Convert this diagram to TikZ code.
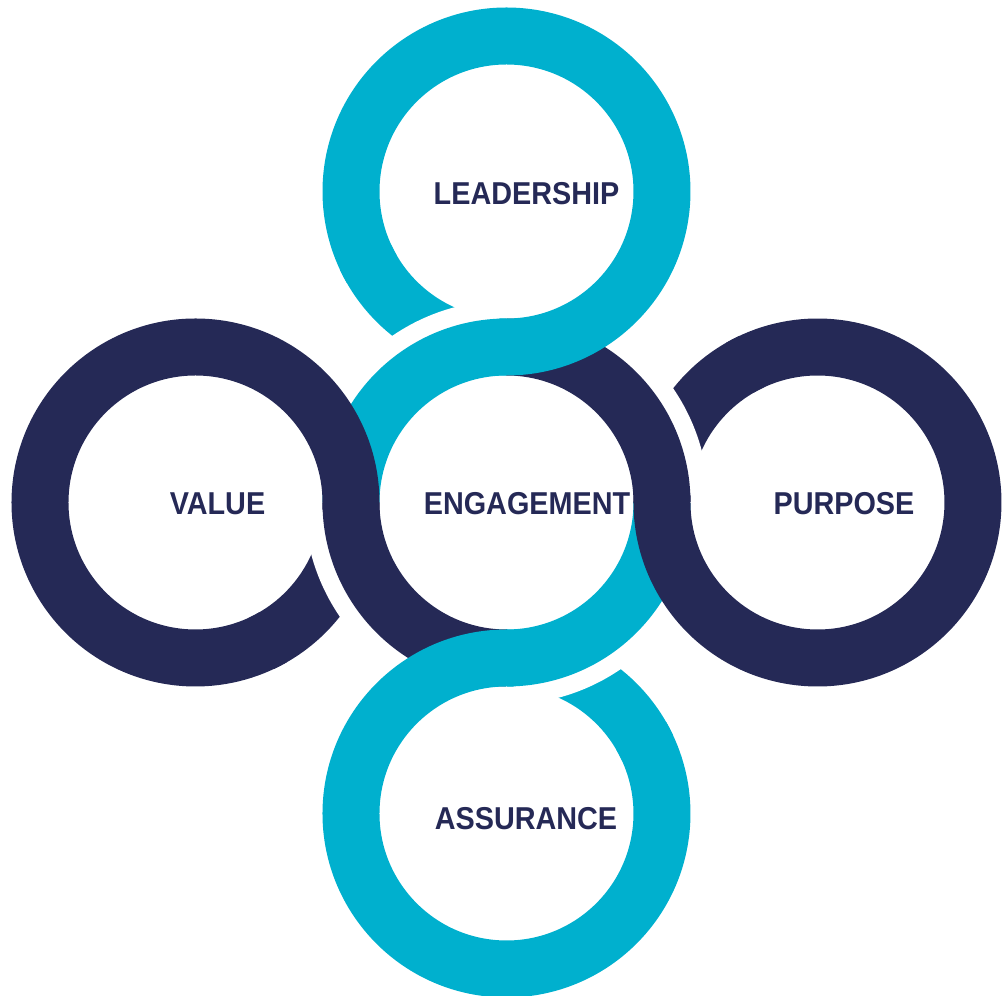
\documentclass[tikz,border=0pt]{standalone}
\usepackage{fontspec}
\setmainfont{Liberation Sans}[FakeStretch=0.91]
\definecolor{ringcyan}{HTML}{00B0CE}
\definecolor{ringnavy}{HTML}{252956}
\begin{document}
\begin{tikzpicture}[ring/.style={line width=5.7mm},
	ringtext/.style={text=ringnavy,font=\fontsize{9}{11}\selectfont\bfseries}]
	\useasboundingbox (-5.065,-4.935) rectangle (4.995,5.025);
	\def\r{1.555}
	\path
	%	ring centres
	(0,0) coordinate (E)
	(0,3.11) coordinate (L)
	(3.11,0) coordinate (P)
	(0,-3.11) coordinate (A)
	(-3.11,0) coordinate (V)
	;
	% loose ends of the outer rings
	\foreach \c/\t/\col in {L/90/ringcyan,P/0/ringnavy,A/-90/ringcyan,V/180/ringnavy}
		\draw[ring,\col] (\c) ++({\t+115}:\r) arc ({\t+115}:{\t+180}:\r);
	% gap round the middle ring
	\draw[white,line width=9.3mm] (E) circle (\r);
	\foreach \t/\col in {90/ringcyan,0/ringnavy,-90/ringcyan,180/ringnavy}
		\draw[ring,\col] (E) ++(\t:\r) arc (\t:{\t+90}:\r);
	\foreach \c/\t/\col in {L/90/ringcyan,P/0/ringnavy,A/-90/ringcyan,V/180/ringnavy}
		\draw[ring,\col] (\c) ++({\t-183}:\r) arc ({\t-183}:{\t+120}:\r);
	\node[ringtext] (leadership) at (0.2,3.085) {LEADERSHIP};
	\node[ringtext] (engagement) at (0.205,-0.015) {ENGAGEMENT};
	\node[ringtext] (value) at (-2.89,-0.015) {VALUE};
	\node[ringtext] (purpose) at (3.375,-0.015) {PURPOSE};
	\node[ringtext] (assurance) at (0.195,-3.16) {ASSURANCE};
\end{tikzpicture}
\end{document}
